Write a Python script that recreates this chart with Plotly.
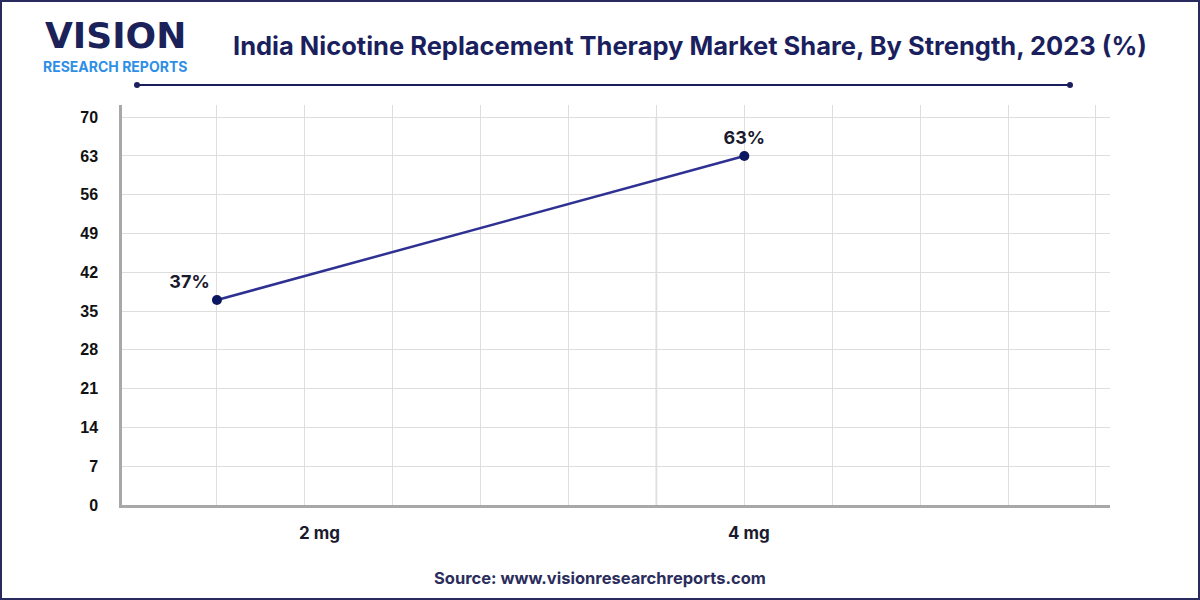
import plotly.graph_objects as go

categories = ["2 mg", "4 mg"]
values = [37, 63]
point_x = [0, 6]          # position of each point on the numeric x scale
label_x = [1.17, 6.05]    # where the category labels sit
y_ticks = [0, 7, 14, 21, 28, 35, 42, 49, 56, 63, 70]
grid_x = list(range(0, 11))

NAVY = "#1b1f5e"
LINE = "#2e3192"

fig = go.Figure()
fig.add_trace(go.Scatter(
    x=point_x, y=values, mode="lines+markers+text",
    line=dict(color=LINE, width=2.5),
    marker=dict(color="#0d1660", size=10),
    text=[f"<b>{v}%</b>" for v in values],
    textposition=["top left", "top center"],
    textfont=dict(family="Inter, Liberation Sans, sans-serif", size=18, color="#1a1a2e"),
    cliponaxis=False, hoverinfo="skip", showlegend=False,
))

# category labels
for c, lx in zip(categories, label_x):
    fig.add_annotation(x=lx, y=0, xref="x", yref="y", text=f"<b>{c}</b>", showarrow=False,
                       yshift=-28, font=dict(family="Inter, Liberation Sans, sans-serif", size=17, color="#1a1a2e"))

# darker centre divider
fig.add_shape(type="line", x0=5, x1=5, y0=0, y1=70, xref="x", yref="y",
              line=dict(color="#c8c8c8", width=1.5), layer="below")

fig.update_xaxes(range=[-1.08, 10.16], tickvals=grid_x, showticklabels=False,
                 showgrid=True, gridcolor="#dedede", gridwidth=1, zeroline=False,
                 showline=True, linecolor="#a8a8a8", linewidth=2.5, ticks="")
fig.update_yaxes(range=[0, 72.2], tickvals=y_ticks,
                 ticktext=[f"<b>{t}</b>" for t in y_ticks],
                 tickfont=dict(family="Liberation Sans, Arial, sans-serif", size=16, color="#111111"),
                 showgrid=True, gridcolor="#dedede", gridwidth=1, zeroline=False,
                 showline=True, linecolor="#a8a8a8", linewidth=2.5, ticks="",
                 ticklabelstandoff=18)

# title
fig.add_annotation(x=690, y=45, text="<b>India Nicotine Replacement Therapy Market Share, By Strength, 2023 (%)</b>",
                   showarrow=False, font=dict(family="Inter, sans-serif", size=25.5, color=NAVY))
# logo
fig.add_annotation(x=115, y=36, text="<b>VISION</b>", showarrow=False,
                   font=dict(family="DejaVu Sans, sans-serif", size=36, color="#1b2159"))
fig.add_annotation(x=115, y=66, text="<b>RESEARCH REPORTS</b>", showarrow=False,
                   font=dict(family="Inter, sans-serif", size=14, color="#2f8fe6"))
# source
fig.add_annotation(x=600, y=578, text="<b>Source: www.visionresearchreports.com</b>", showarrow=False,
                   font=dict(family="Inter, sans-serif", size=16.5, color="#2b2d5c"))

# convert pixel-based annotations to paper coords
W, H = 1200, 600
L, R, T, B = 122, 90, 105, 95
for a in fig.layout.annotations:
    if a.xref == "x":
        continue
    px, py = a.x, a.y
    a.xref = "paper"; a.yref = "paper"
    a.x = (px - L) / (W - L - R)
    a.y = (H - B - py) / (H - T - B)
    a.xanchor = "center"; a.yanchor = "middle"

def px2paper(px, py):
    return (px - L) / (W - L - R), (H - B - py) / (H - T - B)

# title underline with end dots
x0, y0 = px2paper(137, 85)
x1, _ = px2paper(1070, 85)
fig.add_shape(type="line", xref="paper", yref="paper", x0=x0, x1=x1, y0=y0, y1=y0,
              line=dict(color=NAVY, width=2))
for xx in (x0, x1):
    fig.add_shape(type="circle", xref="paper", yref="paper",
                  x0=xx - 3 / (W - L - R), x1=xx + 3 / (W - L - R),
                  y0=y0 - 3 / (H - T - B), y1=y0 + 3 / (H - T - B),
                  fillcolor=NAVY, line=dict(color=NAVY, width=0))
# border frame
bx0, by0 = px2paper(1, 599)
bx1, by1 = px2paper(1199, 1)
fig.add_shape(type="rect", xref="paper", yref="paper", x0=bx0, x1=bx1, y0=by0, y1=by1,
              line=dict(color="#2a2a5e", width=2))

fig.update_layout(width=W, height=H, margin=dict(l=L, r=R, t=T, b=B),
                  plot_bgcolor="white", paper_bgcolor="white")
fig.write_html("out.html", config={"displayModeBar": False},
               post_script="document.body.style.margin='0';document.body.style.overflow='hidden';")
